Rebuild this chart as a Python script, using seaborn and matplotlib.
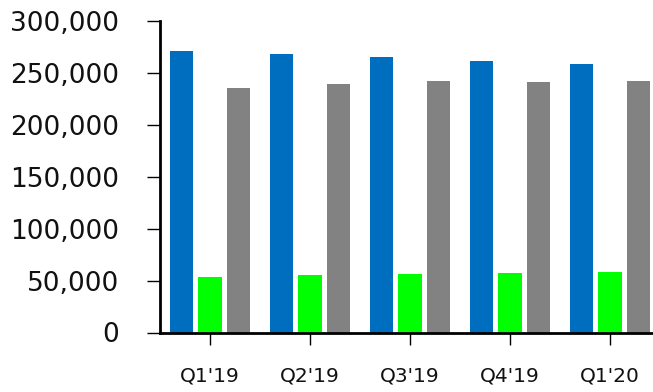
import matplotlib
matplotlib.use("Agg")
import matplotlib.pyplot as plt
import matplotlib.ticker as mticker
import pandas as pd
import seaborn as sns

quarters = ["Q1'19", "Q2'19", "Q3'19", "Q4'19", "Q1'20"]
series_a = [270700, 267800, 264900, 261000, 258200]
series_b = [53400, 55300, 56250, 57200, 58200]
series_c = [235100, 238900, 241800, 240900, 241800]
series_names = ["A", "B", "C"]
palette = ["#006EBF", "#00FF00", "#828282"]

df = pd.DataFrame({
    "quarter": quarters * 3,
    "series": [series_names[0]] * 5 + [series_names[1]] * 5 + [series_names[2]] * 5,
    "value": series_a + series_b + series_c,
})

sns.set_theme(style="white")
plt.rcParams["font.family"] = ["DejaVu Sans"]

fig = plt.figure(figsize=(6.53, 3.92), dpi=100)
ax = fig.add_axes([160 / 653, 1 - 332.5 / 392, 1 - 160 / 653, (332.5 - 20.7) / 392])

sns.barplot(data=df, x="quarter", y="value", hue="series", order=quarters,
            hue_order=series_names, palette=palette, width=0.855, gap=0.16,
            linewidth=0, saturation=1, legend=False, ax=ax)

ax.set_xlim(-0.5, 4.43)
ax.set_ylim(0, 300000)
ax.yaxis.set_major_locator(mticker.MultipleLocator(50000))
ax.yaxis.set_major_formatter(mticker.FuncFormatter(lambda v, p: f"{int(v):,}"))
ax.set_xlabel("")
ax.set_ylabel("")

for s in ["top", "right"]:
    ax.spines[s].set_visible(False)
for s in ["left", "bottom"]:
    ax.spines[s].set_color("black")
    ax.spines[s].set_linewidth(2)

# tick lengths given in points (100 dpi): ~13 px and ~12 px
ax.tick_params(axis="y", which="major", direction="out", length=9.4, width=1.0,
               color="black", labelsize=19, pad=20, left=True, labelcolor="#111111")
ax.tick_params(axis="x", which="major", direction="out", length=8.6, width=1.0,
               color="black", labelsize=14.5, pad=16, bottom=True, labelcolor="#111111")

fig.savefig("out.png", dpi=100)
